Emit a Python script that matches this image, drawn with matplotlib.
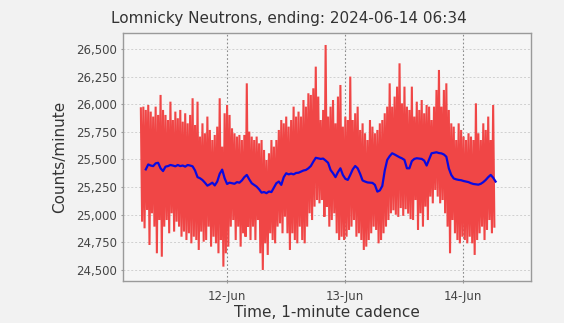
import numpy as np
import pandas as pd
import matplotlib
matplotlib.use("Agg")
import matplotlib.pyplot as plt
import matplotlib.dates as mdates
from matplotlib.ticker import FuncFormatter

# 1-minute counts, reduced to the high / low swing of every 30-minute block
start = "2024-06-11 06:34"
counts_high = [
    25963, 25978, 25948, 25993, 25933, 25888, 25978, 25903, 26084, 25948,
    25903, 25857, 26023, 25857, 25933, 25873, 25948, 25842, 25918, 25827,
    25903, 26054, 25812, 26023, 25707, 25827, 25737, 25888, 25767, 25676,
    25722, 25797, 26054, 25616, 25918, 25993,
    25903, 25782, 25737, 25707, 25722, 25676, 25722, 26189, 25752, 25707,
    25676, 25707, 25646, 25676, 25586, 25495, 25556, 25676, 25616, 25676,
    25767, 25857, 25827, 25888, 25797, 25857, 25978, 25888, 25933, 25888,
    26038, 25978, 26099, 26084, 26144, 26340, 26069,
    25857, 25948, 26536, 25888, 25978, 26038, 25827, 26069, 26174, 25797,
    25888, 25857, 26250, 25857, 25918, 25978, 25767, 25827, 25737, 25676,
    25857, 25797, 25737, 25767, 25827, 25857, 25918, 25978, 26189, 25978,
    26069, 26159, 26370, 26008, 26159, 25978, 25948,
    26159, 25888, 26023, 25948, 26038, 25918, 25993, 25978, 25857, 25978,
    26129, 26310, 25978, 26129, 26189, 25948, 25827, 25797, 25676, 25827,
    25767, 25707, 25676, 25737, 25707, 25676, 26008, 25737, 25676, 25827,
    25767, 25888, 25676, 25993,
]
counts_low = [
    24937, 24877, 25043, 24726, 25013, 24892, 24651, 24952, 24620, 24892,
    24952, 24832, 25013, 24847, 24937, 24892, 24801, 24847, 24771, 24832,
    24741, 24801, 24771, 24681, 24847, 24756, 24771, 24892, 24711, 24801,
    24741, 24651, 24771, 24530, 24651, 24711,
    24892, 24952, 24771, 24892, 24711, 24832, 24801, 24892, 24771, 24892,
    24771, 24952, 24651, 24500, 24741, 24636, 24832, 24771, 24741, 24892,
    24922, 24832, 24982, 24832, 24681, 24832, 24771, 24741, 24892, 24771,
    24741, 24892, 25013, 24952, 25073, 25133, 25103,
    25133, 24982, 25073, 24892, 24952, 25013, 24832, 24771, 24801, 24771,
    24801, 24862, 24892, 24952, 24801, 24832, 24771, 24681, 24711, 24771,
    24832, 24892, 24862, 24741, 24771, 24832, 24892, 24952, 25013, 25040,
    25000, 24980, 25060, 24990, 25050, 25010, 24960,
    24952, 25133, 24862, 25013, 24892, 25073, 24952, 25164, 25103, 25224,
    25164, 25103, 25133, 25013, 24892, 24651, 24952, 24832, 24771, 24741,
    24801, 24771, 24741, 24801, 24741, 24636, 24771, 24832, 24892, 24771,
    24862, 24952, 24832, 24892,
]

# running mean, every 30 minutes from one hour after start
mean_start = "2024-06-11 07:34"
running_mean = [
    25410, 25455, 25445, 25440, 25465, 25470, 25420, 25395, 25435, 25440,
    25450, 25445, 25438, 25450, 25440, 25445, 25435, 25450, 25445, 25438,
    25400, 25340, 25330, 25314, 25290, 25263, 25275, 25290, 25265, 25300,
    25370, 25408, 25330, 25278, 25290, 25285, 25280, 25295, 25290, 25310,
    25340, 25360, 25320, 25285, 25270, 25254, 25230, 25200, 25205, 25195,
    25210, 25205, 25245, 25285, 25300, 25270, 25340, 25375, 25365, 25372,
    25365, 25378, 25380, 25390, 25400, 25405, 25420, 25441, 25480, 25515,
    25510, 25505, 25508, 25490, 25470, 25405, 25375, 25340, 25385, 25420,
    25360, 25325, 25315, 25360, 25410, 25441, 25420, 25370, 25310, 25300,
    25292, 25290, 25288, 25270, 25209, 25220, 25260, 25400, 25496, 25530,
    25556, 25545, 25532, 25520, 25510, 25496, 25420, 25420, 25485, 25505,
    25511, 25508, 25505, 25490, 25445, 25500, 25556, 25560, 25565, 25558,
    25555, 25545, 25525, 25420, 25360, 25328, 25320, 25315, 25312, 25305,
    25300, 25295, 25285, 25278, 25275, 25272, 25280, 25295, 25315, 25340,
    25360, 25335, 25300,
]

y_ticks = np.arange(24500, 26501, 250)
title = "Lomnicky Neutrons, ending: 2024-06-14 06:34"

counts = np.column_stack([counts_high, counts_low]).ravel()
t_counts = pd.date_range(start, periods=len(counts), freq="15min")
t_mean = pd.date_range(mean_start, periods=len(running_mean), freq="30min")

fig = plt.figure(figsize=(5.64, 3.23), dpi=100, facecolor="#f2f2f2")
ax = fig.add_axes([0.2186, 0.130, 0.7229, 0.768])
ax.set_facecolor("#f6f6f6")

ax.plot(t_counts, counts, color="#f04646", lw=1.5, solid_joinstyle="miter")
ax.plot(t_mean, running_mean, color="#0a0ae0", lw=1.6)

ax.set_xlim(pd.Timestamp("2024-06-11 03:00"), pd.Timestamp("2024-06-14 13:45"))
ax.set_ylim(24400, 26645)
ax.set_yticks(y_ticks)
ax.yaxis.set_major_formatter(FuncFormatter(lambda v, p: f"{v:,.0f}"))
ax.xaxis.set_major_locator(mdates.DayLocator())
ax.xaxis.set_major_formatter(mdates.DateFormatter("%d-%b"))

ax.grid(axis="y", color="#d0d0d0", lw=0.7, ls=(0, (2, 2)))
ax.grid(axis="x", color="#8a8a8a", lw=0.8, ls=(0, (1.5, 2)))
ax.set_axisbelow(True)
for s in ax.spines.values():
    s.set_color("#9a9a9a")
    s.set_linewidth(1.0)
ax.tick_params(length=1.5, width=0.8, color="#9a9a9a", labelsize=8.5,
               labelcolor="#444444")
ax.tick_params(axis="x", pad=5)
ax.tick_params(axis="y", pad=3)

fig.text(0.513, 0.944, title, ha="center", va="center", fontsize=11,
         color="#333333")
fig.text(0.106, 0.514, "Counts/minute", rotation=90, ha="center", va="center",
         fontsize=11, color="#333333")
fig.text(0.58, 0.031, "Time, 1-minute cadence", ha="center", va="center",
         fontsize=11, color="#333333")

fig.savefig("out.png", dpi=100, facecolor=fig.get_facecolor())
